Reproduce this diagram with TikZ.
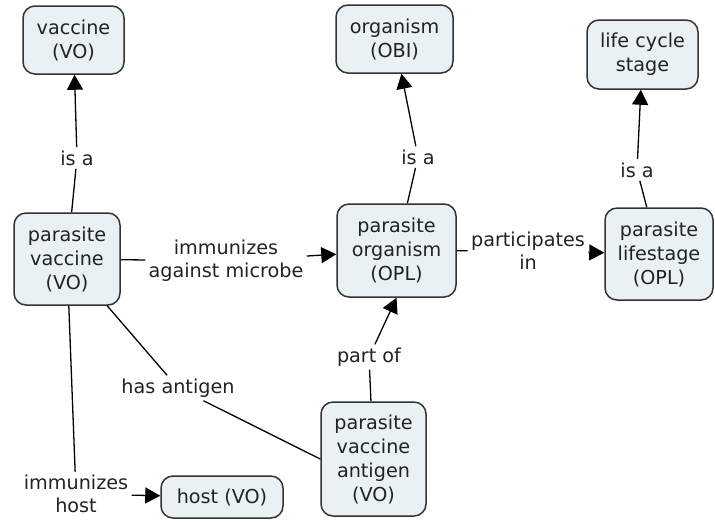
\documentclass[tikz,border=0pt]{standalone}
\usepackage{fontspec}
\setmainfont{DejaVu Sans}
\usetikzlibrary{arrows.meta}
\definecolor{boxfill}{HTML}{E9F1F5}
\definecolor{boxline}{HTML}{333333}
\definecolor{txt}{HTML}{222222}
\begin{document}
\begin{tikzpicture}[x=0.5pt,y=-0.5pt,
  concept/.style={draw=boxline,line width=0.75pt,fill=boxfill,rounded corners=6pt,align=center,inner sep=0pt,font=\fontsize{9.6}{12}\selectfont,text=txt},
  lab/.style={align=center,inner sep=1.5pt,font=\fontsize{9.6}{11.5}\selectfont,text=txt},
  link/.style={draw=black,line width=0.65pt},
  arr/.style={link,-{Triangle[length=7.5pt,width=8pt]}}]
\useasboundingbox (0,0) rectangle (715,521);
% concepts
\node[concept,minimum width=50.5pt,minimum height=34pt] (vac) at (73.5,40) {vaccine\\(VO)};
\node[concept,minimum width=58.5pt,minimum height=34pt] (org) at (394.5,39) {organism\\(OBI)};
\node[concept,minimum width=55.5pt,minimum height=34.5pt] (lcs) at (642.5,54.5) {life cycle\\stage};
\node[concept,minimum width=53pt,minimum height=46pt] (pv) at (67,259) {parasite\\vaccine\\(VO)};
\node[concept,minimum width=59.5pt,minimum height=46.5pt] (po) at (396.5,250.5) {parasite\\organism\\(OPL)};
\node[concept,minimum width=54pt,minimum height=46pt] (pl) at (659,254) {parasite\\lifestage\\(OPL)};
\node[concept,minimum width=52.5pt,minimum height=57pt] (pva) at (373.5,459) {parasite\\vaccine\\antigen\\(VO)};
\node[concept,minimum width=61pt,minimum height=21pt] (host) at (222,497) {host (VO)};
% link labels
\node[lab] (l1) at (77,158) {is a};
\node[lab] (l2) at (418,157) {is a};
\node[lab] (l3) at (637,170) {is a};
\node[lab] (l4) at (226,261) {immunizes\\against microbe};
\node[lab] (l5) at (528,251) {participates\\in};
\node[lab] (l6) at (178,388) {has antigen};
\node[lab] (l7) at (369,357) {part of};
\node[lab] (l8) at (76,494) {immunizes\\host};
% connectors
\draw[link] (pv) -- (l1);
\draw[arr] (l1) -- (vac);
\draw[link] (po) -- (l2);
\draw[arr] (l2) -- (org);
\draw[link] (pl) -- (l3);
\draw[arr] (l3) -- (lcs);
\draw[link] (pv) -- (l4);
\draw[arr] (l4) -- (po);
\draw[link] (po) -- (l5);
\draw[arr] (l5) -- (pl);
\draw[link] (pv) -- (l6);
\draw[link] (l6) -- (pva.west);
\draw[link] (pva) -- (l7);
\draw[arr] (l7) -- (po.south);
\draw[link] (pv) -- (l8);
\draw[arr] (l8) -- (host);
\end{tikzpicture}
\end{document}
